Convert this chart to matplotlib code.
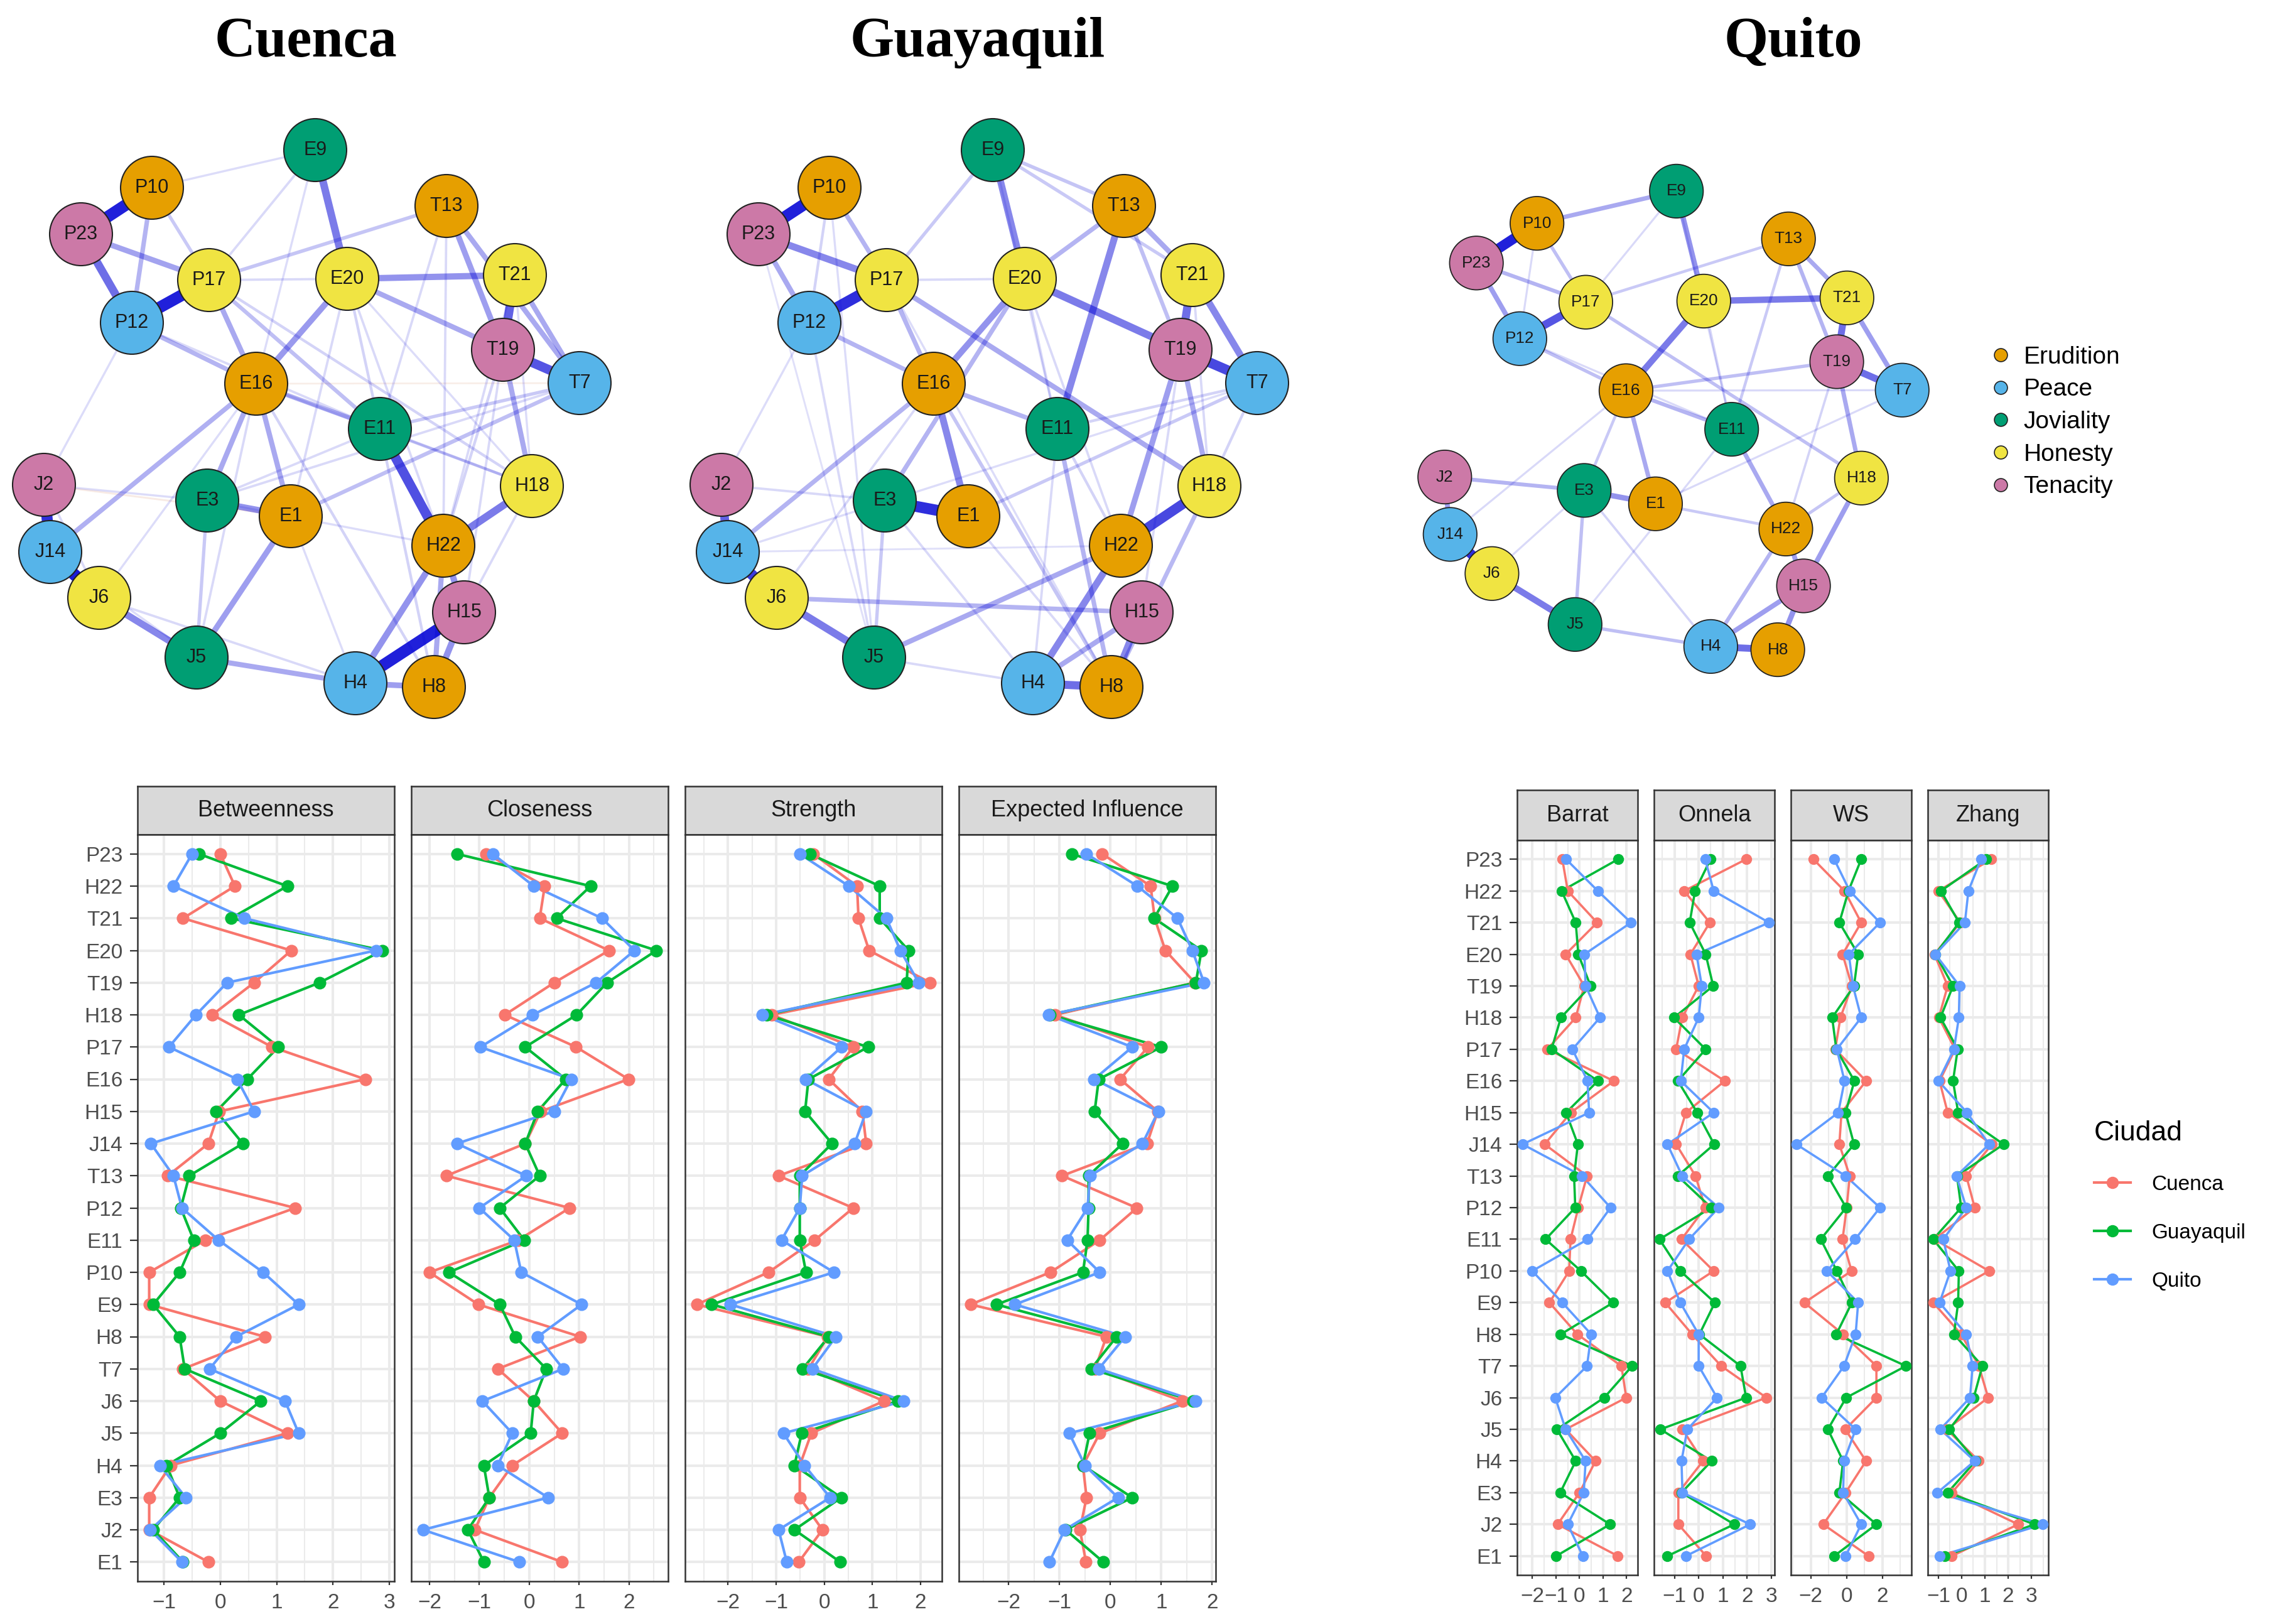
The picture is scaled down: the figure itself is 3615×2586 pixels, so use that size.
import numpy as np
import matplotlib.pyplot as plt
from matplotlib.patches import Circle
from matplotlib.lines import Line2D
from matplotlib.ticker import MultipleLocator

W, H = 3615, 2586
plt.rcParams['font.family'] = ['Liberation Sans', 'DejaVu Sans']

# ---------------- network data ----------------
nodes = ['E9', 'P10', 'T13', 'P23', 'P17', 'E20', 'T21', 'P12', 'T19', 'T7', 'E16', 'E11',
         'J2', 'E3', 'E1', 'H18', 'H22', 'J14', 'J6', 'H15', 'J5', 'H4', 'H8']
layout_x = [502, 242, 711, 129, 333, 553, 820, 210, 801, 923, 408, 605,
            70, 330, 463, 847, 706, 80, 158, 739, 313, 566, 691]
layout_y = [59, 119, 148, 193, 266, 264, 258, 334, 377, 430, 431, 503,
            592, 617, 642, 594, 689, 699, 772, 795, 867, 908, 914]
node_group = [2, 0, 0, 4, 3, 3, 3, 1, 4, 1, 0, 2,
              4, 2, 0, 3, 0, 1, 3, 4, 2, 1, 0]
group_names = ['Erudition', 'Peace', 'Joviality', 'Honesty', 'Tenacity']
group_colors = ['#E69F00', '#56B4E9', '#009E73', '#F0E442', '#CC79A7']

edges_cuenca = [
    ('P10', 'P23', 0.9), ('P12', 'P17', 0.9), ('P23', 'P12', 0.6), ('P23', 'P17', 0.38),
    ('P10', 'P12', 0.3), ('P12', 'E16', 0.3), ('P17', 'E16', 0.35), ('E9', 'E20', 0.55),
    ('E20', 'T21', 0.45), ('E20', 'T19', 0.35), ('E20', 'E16', 0.42), ('T13', 'T19', 0.4),
    ('T13', 'T7', 0.35), ('T21', 'T19', 0.65), ('T21', 'T7', 0.35), ('T19', 'T7', 0.7),
    ('T19', 'H18', 0.35), ('T13', 'P17', 0.22), ('E16', 'E11', 0.3), ('E16', 'E3', 0.35),
    ('E16', 'E1', 0.35), ('E16', 'J14', 0.32), ('E3', 'E1', 0.45), ('E11', 'H22', 0.72),
    ('H18', 'H22', 0.55), ('H22', 'H4', 0.45), ('H22', 'H8', 0.35), ('H22', 'H15', 0.45),
    ('H15', 'H4', 0.9), ('H15', 'H8', 0.45), ('H4', 'H8', 0.4), ('J2', 'J14', 0.85),
    ('J14', 'J6', 0.92), ('J6', 'J5', 0.5), ('J5', 'H4', 0.35), ('J5', 'E1', 0.4),
    ('E1', 'T7', 0.25), ('P17', 'E11', 0.25), ('P10', 'P17', 0.2), ('E11', 'T7', 0.2),
    ('P10', 'E9', 0.1), ('E9', 'P17', 0.12), ('E9', 'E16', 0.1), ('E20', 'P17', 0.12),
    ('E20', 'E11', 0.15), ('E20', 'H22', 0.12), ('E20', 'H18', 0.1), ('E20', 'E1', 0.12),
    ('T13', 'E11', 0.12), ('T13', 'H22', 0.12), ('T21', 'H22', 0.12), ('T21', 'H18', 0.1),
    ('T19', 'H22', 0.15), ('T19', 'H15', 0.12), ('T7', 'E3', 0.12), ('E16', 'H18', 0.15),
    ('E16', 'H8', 0.15), ('E16', 'J5', 0.12), ('E16', 'J6', 0.1), ('E11', 'H18', 0.15),
    ('E11', 'H8', 0.15), ('E11', 'E3', 0.12), ('E3', 'J5', 0.2), ('E3', 'J2', 0.1),
    ('E3', 'H22', 0.1), ('J2', 'P12', 0.1), ('J2', 'E1', -0.08), ('J5', 'J14', 0.1),
    ('J6', 'H4', 0.12), ('E1', 'H4', 0.1), ('H18', 'H15', 0.12), ('P12', 'E11', 0.12),
    ('P17', 'H18', 0.15), ('J2', 'J6', 0.12), ('E16', 'T7', -0.06),
]
edges_guayaquil = [
    ('P10', 'P23', 0.9), ('P23', 'P17', 0.5), ('P23', 'P12', 0.35), ('P12', 'P17', 0.85),
    ('P10', 'P17', 0.3), ('P10', 'P12', 0.15), ('P12', 'E16', 0.3), ('P17', 'E16', 0.3),
    ('P17', 'H18', 0.35), ('E9', 'E20', 0.5), ('E9', 'T13', 0.22), ('E9', 'T21', 0.2),
    ('E9', 'P17', 0.2), ('E20', 'T19', 0.55), ('E20', 'E16', 0.45), ('E20', 'T13', 0.3),
    ('E20', 'E3', 0.3), ('T13', 'E11', 0.5), ('T13', 'T21', 0.35), ('T13', 'T19', 0.25),
    ('T21', 'T19', 0.6), ('T21', 'T7', 0.5), ('T19', 'T7', 0.75), ('T19', 'H22', 0.4),
    ('T19', 'H18', 0.35), ('E16', 'E1', 0.5), ('E16', 'E11', 0.3), ('E16', 'J14', 0.3),
    ('E16', 'H8', 0.22), ('E3', 'E1', 0.85), ('E11', 'H8', 0.3), ('H18', 'H22', 0.75),
    ('H18', 'H8', 0.28), ('H22', 'J5', 0.35), ('H22', 'H4', 0.5), ('H15', 'H4', 0.35),
    ('H15', 'H8', 0.5), ('H15', 'J6', 0.3), ('H4', 'H8', 0.6), ('J2', 'J14', 0.65),
    ('J14', 'J6', 0.8), ('J6', 'J5', 0.55), ('T7', 'E1', 0.2), ('E3', 'J5', 0.2),
    ('P12', 'J5', 0.12), ('P10', 'J5', 0.1), ('E9', 'E11', 0.1), ('E20', 'P17', 0.12),
    ('E20', 'H22', 0.12), ('E20', 'E11', 0.12), ('T7', 'E11', 0.15), ('T7', 'H18', 0.15),
    ('T7', 'J14', 0.1), ('T21', 'H18', 0.12), ('T19', 'H15', 0.12), ('E11', 'H22', 0.15),
    ('E11', 'H4', 0.12), ('E3', 'J2', 0.12), ('E3', 'H4', 0.12), ('J2', 'P12', 0.1),
    ('J6', 'E16', 0.12), ('J5', 'H4', 0.12), ('E1', 'H8', 0.12), ('J14', 'H22', 0.08),
    ('P23', 'J5', 0.08), ('P17', 'H8', 0.1),
]
edges_quito = [
    ('P10', 'P23', 0.9), ('P12', 'P17', 0.7), ('P23', 'P12', 0.4), ('P23', 'P17', 0.3),
    ('P10', 'E9', 0.35), ('P10', 'P17', 0.25), ('P10', 'P12', 0.12), ('E9', 'E20', 0.45),
    ('E9', 'P17', 0.12), ('E9', 'E11', 0.1), ('E20', 'T21', 0.55), ('E20', 'E16', 0.55),
    ('E20', 'E11', 0.15), ('T13', 'T21', 0.35), ('T13', 'T19', 0.3), ('T13', 'P17', 0.2),
    ('T13', 'E11', 0.2), ('T21', 'T19', 0.6), ('T21', 'T7', 0.4), ('T19', 'T7', 0.6),
    ('T19', 'H18', 0.35), ('T19', 'E16', 0.25), ('T19', 'H22', 0.15), ('E16', 'E11', 0.3),
    ('E16', 'E1', 0.35), ('E16', 'E3', 0.2), ('P12', 'E16', 0.25), ('P17', 'H18', 0.25),
    ('E3', 'E1', 0.45), ('E3', 'J2', 0.3), ('E3', 'J5', 0.25), ('E3', 'H4', 0.15),
    ('E11', 'H22', 0.35), ('E11', 'J5', 0.12), ('H18', 'H15', 0.4), ('H18', 'H22', 0.22),
    ('H22', 'H15', 0.4), ('H22', 'H4', 0.3), ('H15', 'H4', 0.4), ('H15', 'H8', 0.45),
    ('H4', 'H8', 0.6), ('J2', 'J14', 0.4), ('J14', 'J6', 0.85), ('J6', 'J5', 0.55),
    ('J5', 'H4', 0.25), ('E1', 'H22', 0.2), ('T7', 'E1', 0.12), ('T7', 'E16', 0.12),
    ('J14', 'E16', 0.12), ('J6', 'E3', 0.12), ('P12', 'E11', 0.12),
]

# ---------------- centrality data (rows top to bottom) ----------------
items = ['P23', 'H22', 'T21', 'E20', 'T19', 'H18', 'P17', 'E16', 'H15', 'J14', 'T13', 'P12',
         'E11', 'P10', 'E9', 'H8', 'T7', 'J6', 'J5', 'H4', 'E3', 'J2', 'E1']
cities = ['Cuenca', 'Guayaquil', 'Quito']
city_colors = ['#F8766D', '#00BA38', '#619CFF']

btw_cuenca = [0.0, 0.26, -0.66, 1.26, 0.6, -0.14, 0.92, 2.57, -0.02, -0.21, -0.93, 1.33,
              -0.26, -1.26, -1.26, 0.79, -0.66, 0.0, 1.19, -0.88, -1.26, -1.26, -0.21]
btw_guayaquil = [-0.38, 1.19, 0.19, 2.88, 1.76, 0.33, 1.03, 0.48, -0.07, 0.4, -0.55, -0.7,
                 -0.47, -0.72, -1.19, -0.72, -0.63, 0.72, 0.0, -0.95, -0.72, -1.19, -0.66]
btw_quito = [-0.5, -0.83, 0.43, 2.76, 0.12, -0.43, -0.91, 0.3, 0.6, -1.23, -0.83, -0.68,
             -0.03, 0.76, 1.39, 0.28, -0.19, 1.15, 1.39, -1.07, -0.61, -1.24, -0.68]

clo_cuenca = [-0.86, 0.31, 0.21, 1.6, 0.5, -0.49, 0.94, 1.99, 0.23, -0.08, -1.66, 0.81,
              -0.22, -2.0, -1.02, 1.02, -0.63, 0.09, 0.66, -0.34, -0.8, -1.09, 0.66]
clo_guayaquil = [-1.45, 1.23, 0.55, 2.55, 1.56, 0.95, -0.08, 0.73, 0.17, -0.08, 0.21, -0.59,
                 -0.1, -1.61, -0.59, -0.28, 0.34, 0.09, 0.03, -0.91, -0.8, -1.23, -0.91]
clo_quito = [-0.73, 0.09, 1.46, 2.11, 1.34, 0.07, -0.98, 0.84, 0.5, -1.45, -0.06, -1.0,
             -0.3, -0.16, 1.05, 0.17, 0.68, -0.94, -0.34, -0.63, 0.38, -2.13, -0.2]

str_cuenca = [-0.23, 0.68, 0.71, 0.93, 2.2, -1.09, 0.6, 0.09, 0.79, 0.87, -0.95, 0.6,
              -0.2, -1.16, -2.65, 0.07, -0.33, 1.24, -0.27, -0.51, -0.51, -0.04, -0.53]
str_guayaquil = [-0.3, 1.15, 1.15, 1.75, 1.71, -1.2, 0.91, -0.33, -0.4, 0.16, -0.51, -0.51,
                 -0.51, -0.38, -2.34, 0.09, -0.45, 1.53, -0.47, -0.62, 0.35, -0.62, 0.33]
str_quito = [-0.51, 0.51, 1.29, 1.58, 1.96, -1.29, 0.36, -0.39, 0.87, 0.63, -0.46, -0.51,
             -0.89, 0.2, -1.95, 0.24, -0.25, 1.65, -0.85, -0.41, 0.12, -0.95, -0.78]

ei_cuenca = [-0.16, 0.79, 0.87, 1.08, 1.66, -1.09, 0.74, 0.19, 0.93, 0.72, -0.95, 0.52,
             -0.21, -1.18, -2.75, -0.08, -0.3, 1.41, -0.21, -0.54, -0.47, -0.6, -0.48]
ei_guayaquil = [-0.76, 1.22, 0.86, 1.79, 1.68, -1.19, 1.0, -0.23, -0.31, 0.24, -0.43, -0.43,
                -0.45, -0.54, -2.24, 0.12, -0.38, 1.63, -0.41, -0.54, 0.43, -0.88, -0.14]
ei_quito = [-0.47, 0.53, 1.32, 1.61, 1.84, -1.22, 0.43, -0.32, 0.94, 0.63, -0.4, -0.45,
            -0.85, -0.21, -1.88, 0.29, -0.23, 1.68, -0.81, -0.5, 0.15, -0.9, -1.2]

barrat_cuenca = [-0.73, -0.5, 0.75, -0.59, 0.2, -0.16, -1.37, 1.46, -0.37, -1.48, 0.32, -0.05,
                 -0.38, -0.44, -1.28, -0.09, 1.78, 1.99, -0.59, 0.68, 0.0, -0.93, 1.63]
barrat_guayaquil = [1.64, -0.76, -0.16, -0.05, 0.47, -0.79, -1.19, 0.78, -0.57, -0.07, -0.23, -0.18,
                    -1.44, 0.06, 1.43, -0.8, 2.24, 1.05, -0.96, -0.16, -0.82, 1.3, -0.99]
barrat_quito = [-0.57, 0.78, 2.19, 0.21, 0.26, 0.87, -0.3, 0.34, 0.41, -2.42, 0.11, 1.32,
                0.35, -2.01, -0.73, 0.5, 0.32, -1.03, -0.59, 0.26, 0.18, -0.5, 0.14]

onnela_cuenca = [1.96, -0.6, 0.46, -0.34, 0.0, -0.68, -0.93, 1.08, -0.53, -0.93, -0.13, 0.27,
                 -0.71, 0.62, -1.38, -0.27, 0.93, 2.8, -0.67, 0.18, -0.84, -0.84, 0.31]
onnela_guayaquil = [0.49, -0.15, -0.37, 0.29, 0.6, -1.02, 0.29, -0.86, -0.06, 0.64, -0.87, 0.52,
                    -1.62, -0.76, 0.67, 0.03, 1.73, 1.96, -1.58, 0.53, -0.71, 1.47, -1.29]
onnela_quito = [0.27, 0.62, 2.91, -0.09, 0.13, 0.0, -0.6, -0.74, 0.62, -1.29, -0.68, 0.83,
                -0.4, -1.29, -0.76, 0.0, 0.0, 0.76, -0.47, -0.71, -0.67, 2.13, -0.53]

ws_cuenca = [-1.86, -0.12, 0.81, -0.23, 0.29, -0.35, -0.64, 1.08, -0.29, -0.41, 0.17, 0.0,
             -0.23, 0.27, -2.36, -0.2, 1.66, 1.66, -0.08, 1.08, -0.06, -1.31, 1.22]
ws_guayaquil = [0.81, 0.1, -0.41, 0.64, 0.41, -0.81, -0.58, 0.43, -0.06, 0.41, -1.05, -0.03,
                -1.45, -0.55, 0.29, -0.58, 3.31, -0.03, -1.05, -0.2, -0.41, 1.66, -0.7]
ws_quito = [-0.7, 0.17, 1.86, 0.12, 0.35, 0.81, -0.55, -0.12, -0.47, -2.81, -0.06, 1.86,
            0.47, -1.1, 0.64, 0.5, -0.15, -1.4, 0.5, -0.15, -0.2, 0.81, -0.06]

zhang_cuenca = [1.27, -1.0, -0.06, -1.17, -0.6, -0.98, -0.28, -0.95, -0.6, 1.3, 0.2, 0.56,
                -1.17, 1.18, -1.22, -0.02, 0.74, 1.14, -0.64, 0.74, -0.42, 2.43, -0.42]
zhang_guayaquil = [1.05, -0.89, -0.11, -1.13, -0.37, -0.91, -0.17, -0.37, -0.15, 1.8, -0.2, -0.02,
                   -1.22, -0.12, -0.15, -0.33, 0.89, 0.52, -0.53, 0.6, -0.6, 3.14, -0.73]
zhang_quito = [0.83, 0.29, 0.14, -1.13, -0.09, -0.12, -0.33, -1.0, 0.23, 1.18, -0.22, 0.2,
               -0.79, -0.48, -0.95, 0.2, 0.47, 0.36, -0.92, 0.56, -1.04, 3.49, -0.95]

centrality_names = ['Betweenness', 'Closeness', 'Strength', 'Expected Influence']
clustering_names = ['Barrat', 'Onnela', 'WS', 'Zhang']


def px_axes(fig, left, top, right, bottom):
    return fig.add_axes([left / W, 1 - bottom / H, (right - left) / W, (bottom - top) / H])


def draw_network(fig, ox, oy, s, edges):
    ax = px_axes(fig, ox - 30 * s, oy - 30 * s, ox + 1000 * s, oy + 1000 * s)
    ax.set_xlim(-30, 1000)
    ax.set_ylim(1000, -30)
    ax.axis('off')
    pos = {n: (x, y) for n, x, y in zip(nodes, layout_x, layout_y)}
    for a, b, w in sorted(edges, key=lambda e: abs(e[2])):
        col = '#0000D5' if w > 0 else '#C8602A'
        lw_px = (1.5 + 19 * abs(w)) * s
        alpha = min(1.0, 0.08 + 0.9 * abs(w) ** 1.2)
        ax.plot([pos[a][0], pos[b][0]], [pos[a][1], pos[b][1]], color=col,
                lw=lw_px * 0.72, alpha=alpha, solid_capstyle='butt', zorder=1)
    for n, x, y, g in zip(nodes, layout_x, layout_y, node_group):
        ax.add_patch(Circle((x, y), 50, fc=group_colors[g], ec='#222222',
                            lw=1.5 * s, zorder=3, clip_on=False))
        ax.text(x, y, n, ha='center', va='center', fontsize=22 * s,
                color='#1A1A1A', zorder=4)
    return ax


def draw_panel(fig, left, top, right, bottom, strip_h, name, series, step, show_y, ms, lw):
    strip = px_axes(fig, left, top - strip_h, right, top)
    strip.set_facecolor('#D9D9D9')
    strip.set_xticks([])
    strip.set_yticks([])
    for sp in strip.spines.values():
        sp.set_color('#333333')
        sp.set_linewidth(1.8)
    strip.text(0.5, 0.5, name, transform=strip.transAxes, ha='center', va='center',
               fontsize=26, color='#1A1A1A')

    ax = px_axes(fig, left, top, right, bottom)
    n = len(items)
    ypos = np.arange(n)[::-1]
    for vals, col in zip(series, city_colors):
        ax.plot(vals, ypos, color=col, lw=lw, zorder=3)
    for vals, col in zip(series, city_colors):
        ax.plot(vals, ypos, color=col, lw=0, marker='o', ms=ms, zorder=4)
    allv = np.concatenate([np.asarray(v) for v in series])
    lo, hi = allv.min(), allv.max()
    pad = 0.05 * (hi - lo)
    ax.set_xlim(lo - pad, hi + pad)
    ax.set_ylim(-0.6, n - 0.4)
    ax.xaxis.set_major_locator(MultipleLocator(step))
    ax.xaxis.set_minor_locator(MultipleLocator(step / 2))
    ax.set_yticks(ypos)
    ax.set_axisbelow(True)
    ax.grid(which='major', color='#EBEBEB', lw=2.9)
    ax.grid(which='minor', axis='x', color='#EBEBEB', lw=1.5)
    for sp in ax.spines.values():
        sp.set_color('#333333')
        sp.set_linewidth(1.8)
    ax.tick_params(axis='x', which='major', length=4.5, width=1.6, colors='#333333',
                   labelcolor='#4D4D4D', labelsize=24, pad=9)
    ax.tick_params(axis='x', which='minor', length=0)
    if show_y:
        ax.set_yticklabels(items)
        ax.tick_params(axis='y', length=9, width=1.6, colors='#333333',
                       labelcolor='#4D4D4D', labelsize=24, pad=8)
    else:
        ax.tick_params(axis='y', length=0, labelleft=False)
    return ax


fig = plt.figure(figsize=(W / 100, H / 100), dpi=100)
fig.patch.set_facecolor('white')

# titles
title_font = dict(fontsize=65, fontweight='bold', family=['Liberation Serif', 'DejaVu Serif'],
                  ha='center', va='center', color='black')
fig.text(487 / W, 1 - 68 / H, 'Cuenca', **title_font)
fig.text(1557 / W, 1 - 68 / H, 'Guayaquil', **title_font)
fig.text(2856 / W, 1 - 68 / H, 'Quito', **title_font)

# networks
draw_network(fig, 0, 180, 1.0, edges_cuenca)
draw_network(fig, 1079, 180, 1.0, edges_guayaquil)
draw_network(fig, 2241, 254, 0.854, edges_quito)

group_handles = [Line2D([], [], ls='none', marker='o', ms=15, mfc=c, mec='#222222', mew=1.2)
                 for c in group_colors]
fig.legend(group_handles, group_names, loc='center left',
           bbox_to_anchor=(3170 / W, 1 - 672 / H), frameon=False, fontsize=28,
           handlelength=0.8, handletextpad=0.55, labelspacing=0.4, borderpad=0,
           borderaxespad=0)

# centrality panels
left_series = [
    [btw_cuenca, btw_guayaquil, btw_quito],
    [clo_cuenca, clo_guayaquil, clo_quito],
    [str_cuenca, str_guayaquil, str_quito],
    [ei_cuenca, ei_guayaquil, ei_quito],
]
for i, (name, ser) in enumerate(zip(centrality_names, left_series)):
    l = 219 + i * 436
    draw_panel(fig, l, 1329, l + 409, 2518, 77, name, ser, 1, i == 0, ms=13.5, lw=3.0)

right_series = [
    [barrat_cuenca, barrat_guayaquil, barrat_quito],
    [onnela_cuenca, onnela_guayaquil, onnela_quito],
    [ws_cuenca, ws_guayaquil, ws_quito],
    [zhang_cuenca, zhang_guayaquil, zhang_quito],
]
right_steps = [1, 1, 2, 1]
for i, (name, ser, st) in enumerate(zip(clustering_names, right_series, right_steps)):
    l = 2416 + i * 218
    draw_panel(fig, l, 1338, l + 192, 2508, 80, name, ser, st, i == 0, ms=11.5, lw=2.6)

city_handles = [Line2D([], [], color=c, lw=3.0, marker='o', ms=13) for c in city_colors]
leg = fig.legend(city_handles, cities, loc='upper left',
                 bbox_to_anchor=(3335 / W, 1 - 1784 / H), frameon=False, fontsize=24,
                 title='Ciudad', title_fontsize=32, alignment='left',
                 handlelength=1.74, handletextpad=0.99, labelspacing=1.38, borderpad=0,
                 borderaxespad=0)

fig.savefig('out.png', dpi=100, facecolor='white')
